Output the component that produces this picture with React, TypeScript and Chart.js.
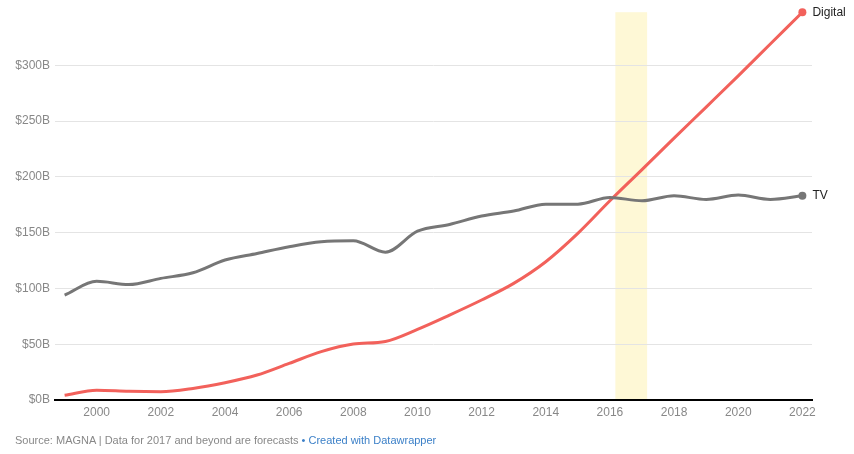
import React, { useEffect, useRef } from "react";
import { Chart, registerables } from "chart.js";

Chart.register(...registerables);

const years = [1999, 2000, 2001, 2002, 2003, 2004, 2005, 2006, 2007, 2008, 2009, 2010, 2011, 2012, 2013, 2014, 2015, 2016, 2017, 2018, 2019, 2020, 2021, 2022];
const tvValues = [94, 106.3, 103.5, 109, 114, 125.4, 131.3, 137.3, 141.8, 142.7, 132.5, 151.3, 157.3, 164.8, 169.3, 175.5, 175.5, 181.5, 178.5, 183, 179.7, 183.6, 179.7, 183];
const digitalValues = [4.2, 8.7, 7.8, 7.5, 10.4, 15.5, 22.4, 32.8, 43.3, 50.1, 52.5, 63.3, 76.1, 89.6, 104.5, 123.9, 149.3, 178.5, 206.4, 234.6, 262.5, 290.5, 319, 347.5];
const xTicks = [2000, 2002, 2004, 2006, 2008, 2010, 2012, 2014, 2016, 2018, 2020, 2022];
const yTicks = [0, 50, 100, 150, 200, 250, 300];
const highlightRange = [2016.17, 2017.16];
const seriesNames = ["TV", "Digital"];

const TV_COLOR = "#767676";
const DIGITAL_COLOR = "#f2615b";

export default function App() {
  const ref = useRef<HTMLCanvasElement | null>(null);

  useEffect(() => {
    if (!ref.current) return;
    const last = years.length - 1;

    const bandPlugin = {
      id: "band",
      beforeDraw(chart: any) {
        const { ctx, chartArea, scales } = chart;
        const x0 = scales.x.getPixelForValue(highlightRange[0]);
        const x1 = scales.x.getPixelForValue(highlightRange[1]);
        ctx.save();
        ctx.fillStyle = "#fef8d6";
        ctx.fillRect(x0, chartArea.top, x1 - x0, chartArea.bottom - chartArea.top);
        ctx.restore();
      },
    };

    const labelPlugin = {
      id: "endLabels",
      afterDatasetsDraw(chart: any) {
        const { ctx } = chart;
        ctx.save();
        ctx.font = "12px 'Liberation Sans', Arial, sans-serif";
        ctx.fillStyle = "#222";
        ctx.textBaseline = "middle";
        ctx.textAlign = "left";
        chart.data.datasets.forEach((ds: any, i: number) => {
          const meta = chart.getDatasetMeta(i);
          const pt = meta.data[meta.data.length - 1];
          ctx.fillText(ds.label, pt.x + 10, pt.y);
        });
        ctx.restore();
      },
    };

    const chart = new Chart(ref.current, {
      type: "line",
      data: {
        datasets: [
          {
            label: seriesNames[0],
            data: years.map((y, i) => ({ x: y, y: tvValues[i] })),
            borderColor: TV_COLOR,
            backgroundColor: TV_COLOR,
            borderWidth: 3,
            cubicInterpolationMode: "monotone",
            pointRadius: (c: any) => (c.dataIndex === last ? 4 : 0),
            pointHoverRadius: 0,
            pointBorderWidth: 0,
            clip: false,
          },
          {
            label: seriesNames[1],
            data: years.map((y, i) => ({ x: y, y: digitalValues[i] })),
            borderColor: DIGITAL_COLOR,
            backgroundColor: DIGITAL_COLOR,
            borderWidth: 3,
            cubicInterpolationMode: "monotone",
            pointRadius: (c: any) => (c.dataIndex === last ? 4 : 0),
            pointHoverRadius: 0,
            pointBorderWidth: 0,
            clip: false,
          },
        ],
      },
      options: {
        animation: false,
        responsive: false,
        maintainAspectRatio: false,
        layout: { padding: { left: 0, right: 42, top: 12, bottom: 0 } },
        plugins: { legend: { display: false }, tooltip: { enabled: false } },
        scales: {
          x: {
            type: "linear",
            min: 1998.7,
            max: 2022.3,
            afterBuildTicks: (s: any) => {
              s.ticks = xTicks.map((v) => ({ value: v }));
            },
            afterFit: (s: any) => {
              s.height = 54;
            },
            grid: { display: false, drawTicks: false },
            border: { display: true, color: "#000", width: 2 },
            ticks: {
              padding: 5,
              color: "#888",
              font: { size: 12, family: "'Liberation Sans', Arial, sans-serif" },
              callback: (v: any) => String(v),
              maxRotation: 0,
              autoSkip: false,
            },
          },
          y: {
            type: "linear",
            min: 0,
            max: 347.5,
            afterBuildTicks: (s: any) => {
              s.ticks = yTicks.map((v) => ({ value: v }));
            },
            afterFit: (s: any) => {
              s.width = 55;
            },
            grid: {
              drawTicks: false,
              color: (c: any) => (c.tick && c.tick.value === 0 ? "rgba(0,0,0,0)" : "#e4e4e4"),
              lineWidth: 1,
            },
            border: { display: false },
            ticks: {
              padding: 5,
              color: "#888",
              font: { size: 12, family: "'Liberation Sans', Arial, sans-serif" },
              callback: (v: any) => "$" + v + "B",
              autoSkip: false,
            },
          },
        },
      },
      plugins: [bandPlugin, labelPlugin],
    } as any);

    return () => chart.destroy();
  }, []);

  return (
    <div style={{ position: "absolute", left: 0, top: 0, width: 854, height: 454, background: "#fff" }}>
      <canvas ref={ref} width={854} height={454} style={{ width: 854, height: 454, display: "block" }} />
      <div
        style={{
          position: "absolute",
          left: 15,
          top: 432,
          fontFamily: "'Liberation Sans', Arial, sans-serif",
          fontSize: 11,
          color: "#888",
          whiteSpace: "nowrap",
          lineHeight: "16px",
        }}
      >
        Source: MAGNA | Data for 2017 and beyond are forecasts{" "}
        <span style={{ color: "#3c80c8" }}>• Created with Datawrapper</span>
      </div>
    </div>
  );
}
